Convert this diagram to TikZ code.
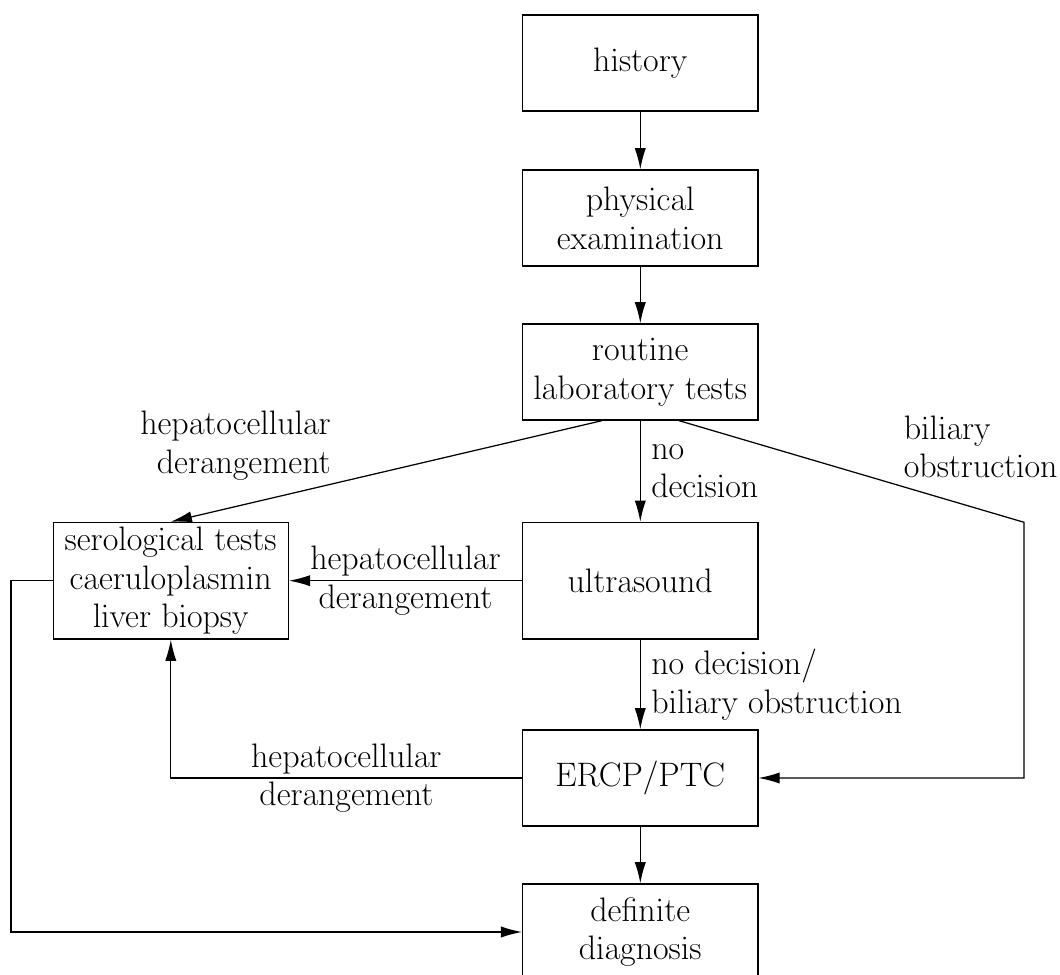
\documentclass[tikz,border=0pt]{standalone}
\usetikzlibrary{arrows.meta,calc}
\font\bigrm=cmr17 at 10.92pt
\begin{document}
\begin{tikzpicture}[x=0.3215pt,y=-0.3215pt,
  txt/.style={font=\fontsize{10}{12.4}\selectfont\bigrm},
  box/.style={txt, draw, inner sep=0pt, minimum width=75.6pt, minimum height=30.9pt, align=center},
  tallbox/.style={box, minimum height=37.5pt},
  arr/.style={-{Latex[length=6.8pt,width=3.6pt]}},
  lbl/.style={txt}]
\useasboundingbox (0,0) rectangle (1060,975);
\node[box] (hist) at (640.3,63) {history};
\node[box] (phys) at (640.3,218) {physical\\examination};
\node[box] (rout) at (640.3,372) {routine\\laboratory tests};
\node[tallbox] (ultra) at (640.3,580.7) {ultrasound};
\node[tallbox] (sero) at (170.8,580.7) {serological tests\\caeruloplasmin\\liver biopsy};
\node[box] (ercp) at (640.3,778) {ERCP/PTC};
\node[box] (diag) at (640.3,932) {definite\\diagnosis};
\coordinate (bend) at (1024,522.3);
\coordinate (loop) at (11,580.7);
\draw[arr] (hist) -- (phys);
\draw[arr] (phys) -- (rout);
\draw[arr] (rout) -- node[lbl, midway, anchor=west, align=left]{no\\decision} (ultra);
\draw[arr] ($(rout.south)+(-38.3,0)$) -- node[lbl, pos=0.62, anchor=south east, align=right, inner sep=1pt]{hepatocellular\\derangement} (sero.north);
\draw[arr] ($(rout.south)+(38.7,0)$) -- node[lbl, pos=0.62, anchor=south west, align=left, yshift=-1.6pt]{biliary\\obstruction} (bend) |- (ercp.east);
\draw[arr] (ultra.west) -- node[lbl, midway, align=center]{hepatocellular\\derangement} (sero.east);
\draw[arr] (ultra) -- node[lbl, midway, anchor=west, align=left]{no decision/\\biliary obstruction} (ercp);
\draw[arr] (ercp.west) -| node[lbl, pos=0.25, align=center]{hepatocellular\\derangement} (sero.south);
\draw[arr] (sero.west) -- (loop) |- (diag.west);
\draw[arr] (ercp) -- (diag);
\end{tikzpicture}
\end{document}
